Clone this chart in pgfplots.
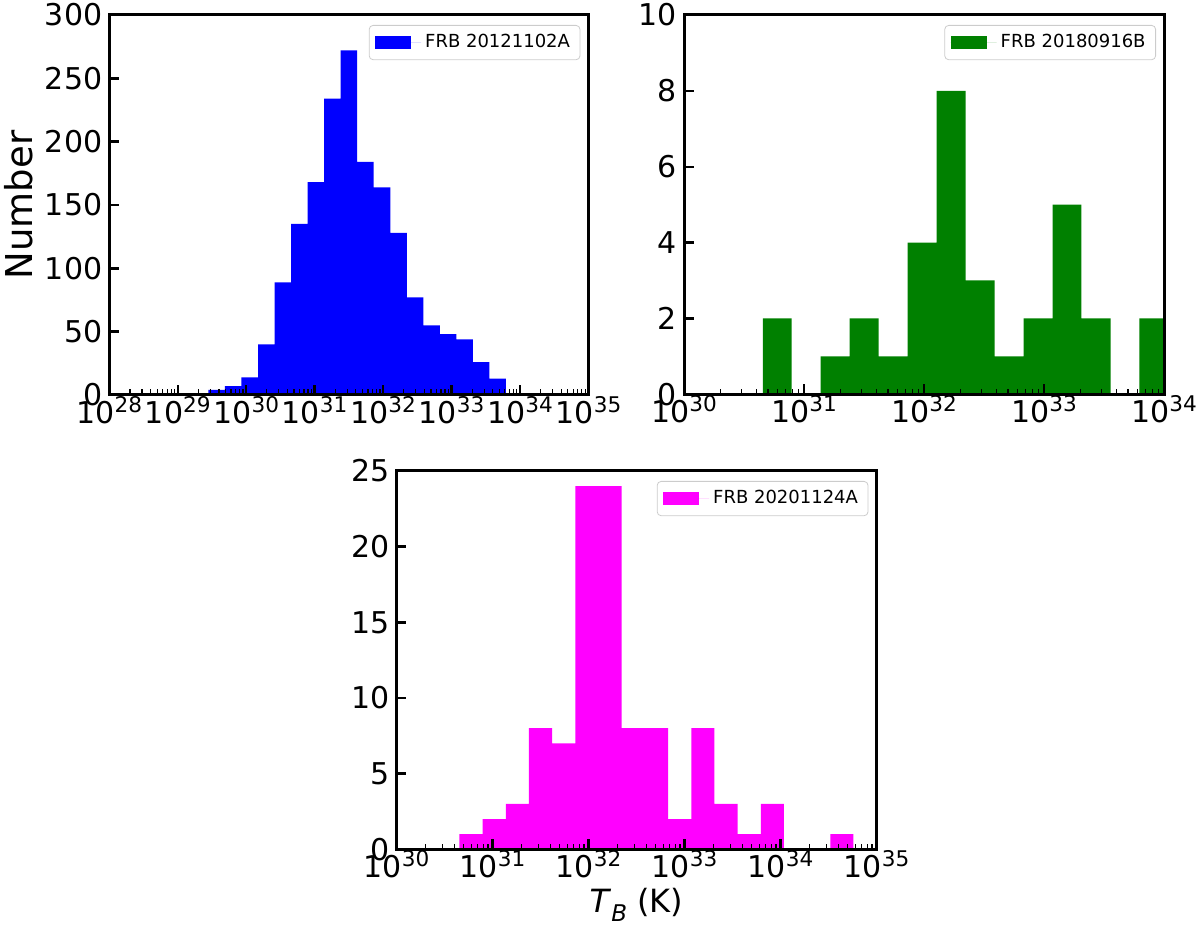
\documentclass[border=0pt]{standalone}
\usepackage{fontspec}
\setmainfont{DejaVu Sans}
\usepackage{pgfplots}
\usepackage{pgfplotstable}
\pgfplotsset{compat=1.18}
\definecolor{mplgreen}{RGB}{0,128,0}
\definecolor{mplblue}{RGB}{0,0,255}
\definecolor{mplmagenta}{RGB}{255,0,255}
\newcommand{\ep}[1]{10\raisebox{5.5pt}{\fontsize{10.8}{12}\selectfont #1}}

% bin left edges as log10(T_B); last row closes the final bin
\pgfplotstableread{
lgT n
29.448 4
29.690 7
29.931 14
30.173 40
30.414 89
30.656 135
30.897 168
31.139 234
31.380 272
31.622 184
31.863 164
32.105 128
32.346 77
32.588 55
32.829 48
33.071 44
33.312 26
33.554 13
33.795 13
}\tabA

\pgfplotstableread{
lgT n
30.656 2
30.897 0
31.139 1
31.380 2
31.622 1
31.863 4
32.105 8
32.346 3
32.588 1
32.829 2
33.071 5
33.312 2
33.554 0
33.795 2
34.037 2
}\tabB

\pgfplotstableread{
lgT n
30.656 1
30.897 2
31.139 3
31.380 8
31.622 7
31.863 24
32.105 24
32.346 8
32.588 8
32.829 2
33.071 8
33.312 3
33.554 1
33.795 3
34.037 0
34.278 0
34.520 1
34.761 1
}\tabC

\pgfplotsset{
  frbhist/.style={
    scale only axis,
    ymin=0,
    axis on top,
    tick align=inside,
    tick pos=left,
    axis line style={line width=1.5pt},
    major tick length=5pt,
    minor tick length=2.8pt,
    major tick style={line width=1.2pt, black},
    minor tick style={line width=0.6pt, black},
    tick label style={font=\fontsize{15}{16}\selectfont},
    xticklabel style={yshift=3pt},
    legend style={at={(1,1)}, anchor=north east, xshift=-4pt, yshift=-5pt,
      draw=black!20, rounded corners=2pt, inner ysep=2.5pt, inner xsep=3pt,
      font=\fontsize{9}{11}\selectfont},
    legend cell align=left,
    legend image code/.code={%
      \fill[##1, sharp corners] (0pt,-3.25pt) rectangle (18pt,3.25pt);
      \path (0pt,0pt) -- (23pt,0pt);},
  },
}

\begin{document}
\begin{tikzpicture}
\useasboundingbox (0,0) rectangle (600pt,465pt);

\begin{axis}[xmode=log, frbhist,
  /pgf/number format/assume math mode=true,
  at={(54.65pt,267.5pt)}, anchor=south west,
  width=239.55pt, height=190pt,
  xmin=1e28, xmax=1e35,
  xtick={1e28,1e29,1e30,1e31,1e32,1e33,1e34,1e35},
  xticklabels={\ep{28},\ep{29},\ep{30},\ep{31},\ep{32},\ep{33},\ep{34},\ep{35}},
  ymax=300, ytick={0,50,100,150,200,250,300},
  ylabel=Number,
  ylabel style={at={(axis description cs:-0.19,0.5)}, anchor=center, font=\fontsize{18.5}{20}\selectfont},
]
\addplot[ybar interval, fill=mplblue, draw=none] table[x expr=10^\thisrow{lgT}, y=n] {\tabA};
\addlegendentry{FRB 20121102A}
\end{axis}

\begin{axis}[xmode=log, frbhist,
  /pgf/number format/assume math mode=true,
  at={(342pt,267.85pt)}, anchor=south west,
  width=240pt, height=189.65pt,
  xmin=1e30, xmax=1e34,
  xtick={1e30,1e31,1e32,1e33,1e34},
  xticklabels={\ep{30},\ep{31},\ep{32},\ep{33},\ep{34}},
  ymax=10, ytick={0,2,4,6,8,10},
]
\addplot[ybar interval, fill=mplgreen, draw=none] table[x expr=10^\thisrow{lgT}, y=n] {\tabB};
\addlegendentry{FRB 20180916B}
\end{axis}

\begin{axis}[xmode=log, frbhist,
  /pgf/number format/assume math mode=true,
  at={(198.2pt,40.35pt)}, anchor=south west,
  width=240pt, height=189.15pt,
  xmin=1e30, xmax=1e35,
  xtick={1e30,1e31,1e32,1e33,1e34,1e35},
  xticklabels={\ep{30},\ep{31},\ep{32},\ep{33},\ep{34},\ep{35}},
  ymax=25, ytick={0,5,10,15,20,25},
  xlabel={\textit{T}\raisebox{-0.3em}{\fontsize{11.5}{12}\selectfont\textit{B}} (K)},
  xlabel style={at={(axis description cs:0.5,-0.147)}, anchor=center, font=\fontsize{16}{17}\selectfont},
]
\addplot[ybar interval, fill=mplmagenta, draw=none] table[x expr=10^\thisrow{lgT}, y=n] {\tabC};
\addlegendentry{FRB 20201124A}
\end{axis}
\end{tikzpicture}
\end{document}
